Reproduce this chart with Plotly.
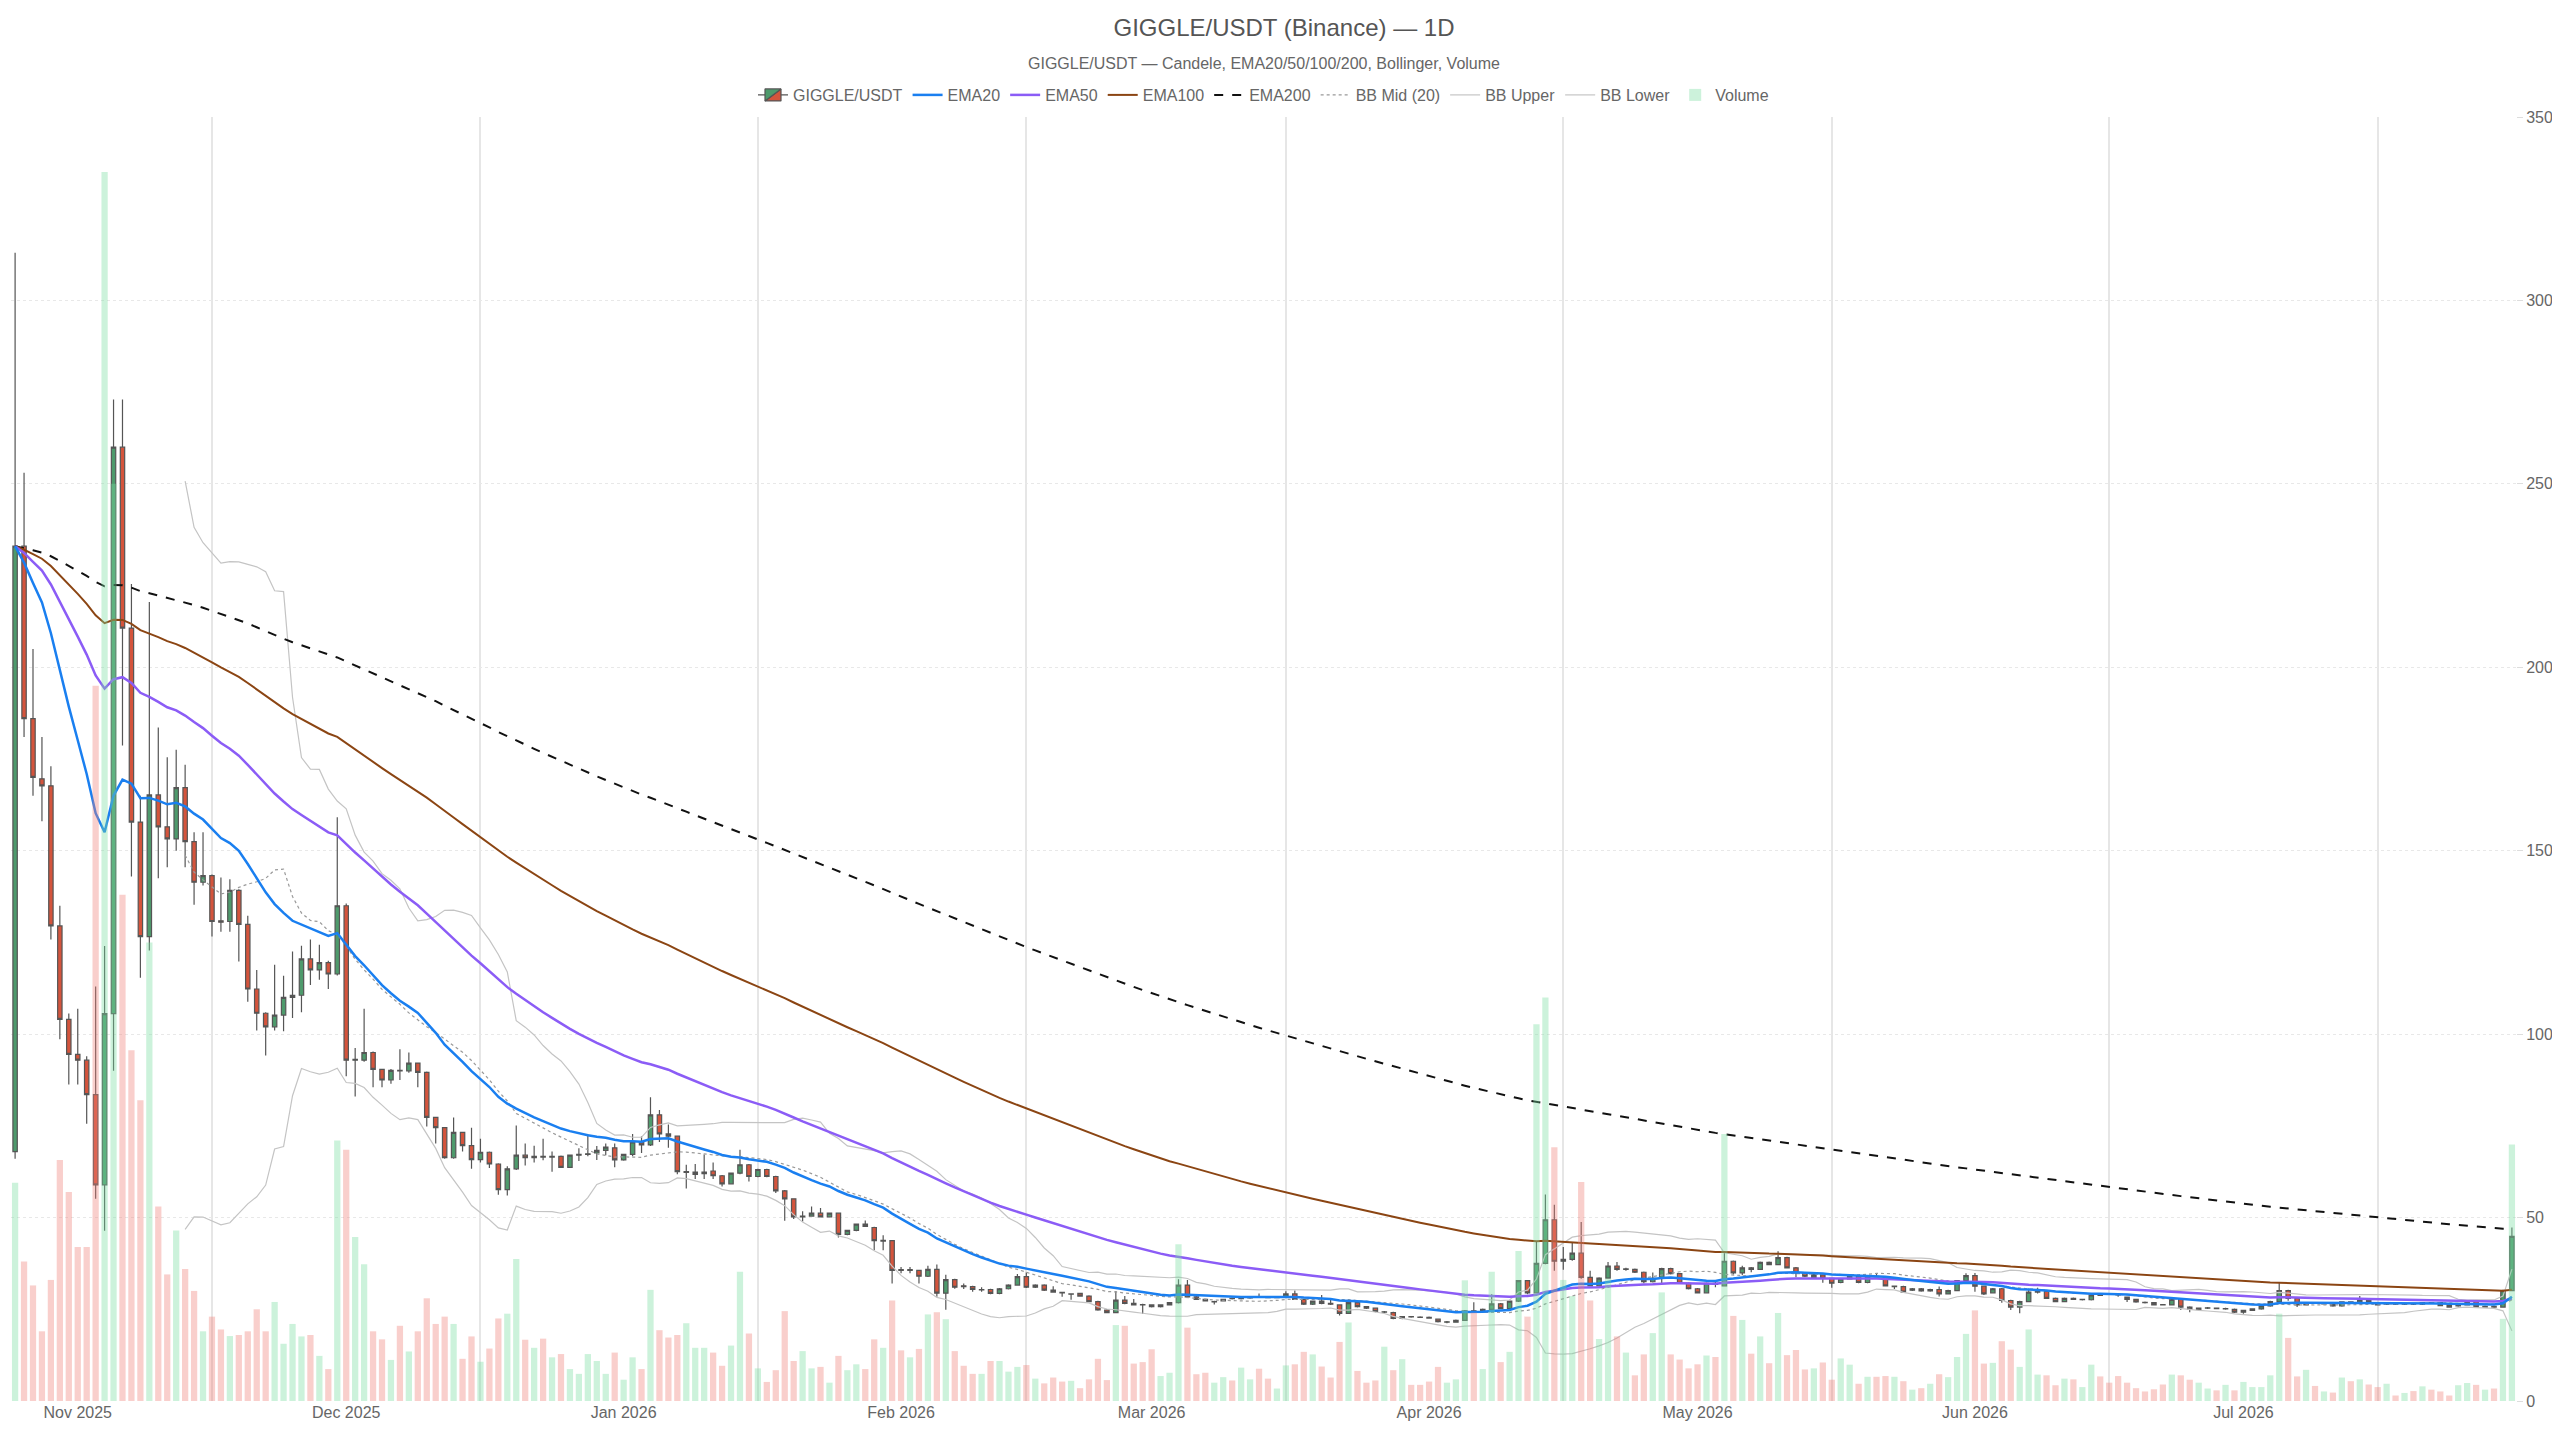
import pandas as pd
import plotly.graph_objects as go

start_date = "2025-10-25"
opens = [68,233,186,169.6,167.7,129.5,104,94.5,92.9,83.5,
 58.9,105.6,260,210.7,157.8,126.6,165.2,156.5,153.2,167.2,
 152.5,141.4,143.2,130.9,130.7,139.2,129.9,112.3,105.7,102,
 105.2,110,110.6,120.5,117.5,119.5,116.4,135,92.9,92.9,
 95,90.4,87.5,90.1,90.0,92.1,89.6,77.3,74.5,66.3,
 73.2,69.6,65.8,67.8,64.6,57.6,63.3,67,66.3,66.7,
 66.5,66.7,63.7,67,67.2,67.6,68.3,69,65.7,67.2,
 70.6,69.8,78,72.8,72.2,62.3,61.8,62.0,62.7,61.4,
 59.2,62.1,64.4,61.2,63.1,61.2,57.3,55.1,50.2,50.4,
 51.2,50.2,51.2,45.4,46.5,48.2,47.3,43.6,43.7,35.8,
 35.6,35.6,34,35.9,29.4,33.1,31.4,31.2,30.3,30.4,
 29.35,30.6,31.6,33.9,31,31.6,30.2,29.6,29.1,29.35,
 28.6,27.1,24.8,24.1,27.5,26.6,26.3,26.2,25.7,26.2,
 26.8,31.6,28.4,27.7,27.0,27.3,28.0,27.9,28.1,28.4,
 28.3,28.2,28.4,29.2,27.7,26.4,27.2,26.6,26.2,23.9,
 26.8,25.7,25.3,24.2,24.1,22.5,23.0,22.9,22.8,22.3,
 21.5,21.5,22,24.6,24.3,25,26.5,25.2,27.2,32.8,
 29.5,37.5,49.4,38.1,38.6,40.3,33.7,31.4,33.5,36.8,
 35.9,35.9,35.1,32.5,33.4,36.1,34.7,32.1,30.6,29.5,
 32.1,31.4,38.1,34.9,36.3,35.9,37.8,37.2,39.1,36.3,
 34.9,33.7,34.4,33.4,32.3,33.3,34,32.3,34,33.7,
 31.2,31.2,30.2,30.6,30.0,30.4,29.2,30.1,32.8,34.2,
 31.3,29.5,30.6,27.4,25.6,27.1,29.7,29.9,28,27.1,
 28,27.6,27.6,28.9,29.2,29,28.3,27.7,26.9,26.8,
 26.3,26.2,27.7,25.6,25,25.3,25.3,25.1,25,24.2,
 24.7,25.1,25.9,27.1,30.1,28,26.2,26.8,26.5,26.5,
 25.9,27,27,27.4,26.8,26.4,26.5,26.4,26.5,26.4,
 26.8,26.8,26.2,25.9,26.2,27.1,25.6,25.8,25.6,30.1]
closes = [233,186,170,167.7,129.5,104,94.5,92.9,83.5,58.9,
 105.6,260,210.7,157.8,126.6,165.2,156.5,153.2,167.2,152.5,
 141.4,143.2,130.7,130.5,139.2,129.9,112.3,105.7,102,105.2,
 110,110.6,120.5,117.5,119.5,116.4,135,92.9,93.1,95,
 90.4,87.5,90.1,90.0,92.1,89.6,77.3,74.5,66.3,73.2,
 69.6,65.8,67.8,64.6,57.6,63.3,67,66.3,66.7,66.5,
 66.7,63.7,67,67.2,67.4,68.3,69.2,65.7,67.2,70.6,
 69.8,78,72.8,72.2,62.5,62.5,62.4,62.4,61.4,59.2,
 62.1,64.4,61.2,63.1,61.2,57.3,55.1,50.2,50.4,51.2,
 50.2,51.2,45.4,46.5,48.2,47.6,43.7,43.8,35.6,35.6,
 35.8,34,35.9,29.4,33.1,31,31.2,30.4,30.4,29.35,
 30.6,31.6,33.9,31,31.6,30.2,29.7,29.5,29.2,28.6,
 27.1,24.8,24.1,27.5,26.6,26.2,26.2,25.7,26.2,26.8,
 31.6,28.4,27.7,27.3,27.1,27.7,27.9,28.1,28.4,28.3,
 28.2,28.4,29.2,27.7,26.4,27.2,26.6,26.4,23.9,26.8,
 25.7,25.3,24.4,24.3,22.5,23.0,22.9,22.8,22.6,21.6,
 21.6,22.0,24.6,24.3,25,26.5,25.2,27.2,32.8,29.5,
 37.5,49.4,38.1,38.6,40.3,33.7,31.4,33.5,36.8,35.9,
 36.0,35.1,32.5,33.4,36.1,34.7,32.1,30.6,29.5,32.1,
 31.8,38.1,34.9,36.3,35.9,37.8,37.2,39.1,36.3,34.9,
 34.0,34.4,33.4,32.1,33.3,34.0,32.3,34,33.9,31.4,
 31.3,29.7,30.6,30.0,30.4,29.2,30.1,32.8,34.2,31.3,
 29.2,30.6,27.4,25.6,27.1,29.7,29.9,28.0,27.1,28,
 27.7,27.7,28.9,28.8,29.1,28.9,27.7,27,26.8,26.2,
 26.2,27.7,25.6,25,25.3,25.4,25.2,25.2,24.2,24.7,
 25.1,25.9,27.1,30.1,28,26.2,26.8,26.7,26.6,25.9,
 27,26.9,27.7,26.8,26.2,26.5,26.4,26.5,26.4,26.8,
 26.7,26.0,25.6,26.0,27.1,25.6,25.8,25.6,30.1,44.9]
highs = [313,253,205,181,173,135,105.6,106.9,94,113,
 124,273,273,222.7,165,217.8,183.6,175.5,177.5,173.4,
 155,155,143.5,142.7,142.2,139.5,132.3,117.5,106,118.9,
 115.9,122.5,124.1,125.8,124.4,120,159.1,135.6,96.2,106.9,
 95.3,90.6,90.5,95.9,95,92.3,89.8,77.5,74.7,77.3,
 73.4,74.5,71.5,68,64.8,64,75.1,70.2,69.6,71.5,
 68,66.9,67.2,68.9,72.8,69.5,70.2,70.2,67.4,72.8,
 72.2,82.8,79.3,75.4,72.4,64.4,64.6,67.2,65,61.6,
 62.3,68.5,64.6,63.3,63.3,61.4,57.5,55.3,51.7,53,
 52.6,51.4,51.4,46.7,48.4,49.2,47.5,45.2,43.9,36.5,
 36.5,35.8,36.9,37.2,34.4,33.3,32,31.4,31,30.6,
 30.8,31.8,34.6,35,31.8,31.8,31.3,29.8,29.4,29.5,
 28.8,27.3,25,30,28.6,27.8,26.5,26.4,26.4,27,
 33.2,33,28.6,27.9,27.3,27.9,28.2,28.4,28.6,29.3,
 28.5,28.6,29.9,30.1,27.9,27.4,28.9,27.7,26.4,27.4,
 27,25.9,25.5,24.5,24.3,23.2,23.2,23.1,23,22.5,
 21.8,22.2,24.8,26.9,25.2,29.1,26.7,27.4,33,33,
 43.4,56.3,53.5,42,43.1,48.8,35.5,33.7,37.9,37.9,
 36.3,36.1,35.3,35.0,36.3,36.3,34.9,32.3,30.8,32.3,
 32.8,40.6,38.3,36.9,36.5,38.0,38.0,40.8,39.3,36.5,
 35.1,34.6,34.6,33.6,33.5,34.2,34.2,34.2,34.9,33.9,
 31.5,31.4,30.8,30.8,30.6,31.2,30.3,33.0,34.8,34.9,
 31.5,30.8,30.8,27.6,27.3,30.6,30.9,30.1,28.2,28.2,
 28.2,27.9,29.3,29.2,29.4,29.3,28.5,27.9,27.1,27.0,
 26.4,28.2,27.9,25.8,25.5,25.6,25.5,25.4,25.2,24.9,
 25.3,26.1,27.3,32.2,30.3,28.2,27.0,27.0,26.8,26.7,
 27.2,27.2,28.6,27.6,27.0,26.7,26.7,26.7,26.7,27.0,
 27,27.0,26.4,26.2,27.3,27.3,26,26.0,30.3,47.3]
lows = [66,181,165,158,125.8,98.6,86.3,86.3,75.6,55.1,
 46.4,90,178.7,143,115.4,122.8,142.5,145.5,150,145.5,
 135.3,140.5,126.6,127.9,127.9,119.8,108.8,101,94.2,101,
 100.8,104.4,106,113.4,114.8,112.3,116,88.5,83,92.5,
 85.5,85.5,86.5,87.5,89.5,85.5,74.8,70.2,66,66,
 68,63.3,65,63.5,56.2,56,63,64.2,65,65.6,
 62.5,63.5,63.5,65.4,66.7,65.7,67.0,63.7,65.5,66.7,
 67.6,69.5,70.6,69.0,61.8,57.9,60.5,60.5,60.5,58.5,
 59,61.8,59.8,61,61,56.7,49.1,49.6,48.9,50.2,
 50,50,44.6,45.2,46.3,47.4,41.1,41.1,32,34.8,
 34.8,32,33.8,28.4,24.9,30.6,30.5,29.8,29.8,29.1,
 29.1,30.4,31.4,30.8,30.8,30,29.5,28.4,27.6,28.4,
 26.9,24.6,23.9,23.9,26.4,26,23.7,25.5,25.5,26,
 26.6,28.2,27.5,27.1,26.3,27.1,27.7,27.7,27.9,28.1,
 28,28,28.2,27.5,26.2,26.2,26.4,26.2,23.3,23.7,
 25.5,25.1,24.2,24,22.3,22.3,22.7,22.6,22.4,21.4,
 21.2,21.3,21.8,24.1,24.1,24.8,25,25,27,29.1,
 29.3,37.3,35.5,35.8,38.2,33.3,31.2,31.2,33.3,35.5,
 35.5,34.9,32.1,32.3,32.0,34.5,31.9,30.4,29.3,29.3,
 31.0,31.2,34.5,34.3,35.1,35.7,37.0,37.0,36.1,33.7,
 33.8,33.5,32.2,30.9,32.1,33.1,32.1,32.1,33.7,31.2,
 30.5,29.5,30.0,29.8,29.8,28.5,29.0,29.9,32.6,29.8,
 28.9,29.3,26.8,24.8,23.9,26.9,29.3,27.8,26.9,26.9,
 27.5,27.4,27.4,28.6,28.9,28.4,27.0,26.8,26.6,26.0,
 26.0,26.0,24.8,24.2,24.8,25.1,25.0,24.9,24.0,23.8,
 24.5,24.9,25.7,26.9,27.3,25.6,26.0,26.5,26.3,25.7,
 25.7,26.7,26.8,26.6,26.0,26.2,26.2,26.2,26.2,26.2,
 26.5,25.8,25.4,25.7,26.0,25.4,25.4,25.2,25.4,30.0]
volumes = [59.5,38,31.5,19,33,65.7,57,42,42,195,
 335,250,138,95.6,82,125,53,34.5,46.5,36,
 30,19,23,19.5,17.7,18,19,25,19,27,
 15.6,21,17.6,18,12.3,8.7,71,68.5,44.7,37.3,
 19,16.8,11.2,20.5,13.5,19,28,21,23,21,
 11.5,17.6,10.7,14.3,22.5,23.8,38.7,16.7,14.5,17,
 11.9,12.8,8.7,7.4,12.8,10.9,7.4,13.2,5.8,11.9,
 8.7,30.3,19.3,17.3,18,21.2,14.5,14.5,13.2,9.6,
 15.1,35.2,18.4,8.9,5.2,8.4,24.5,10.9,13.6,8.9,
 9.3,5,12.3,8.4,10,8.7,16.8,14.5,27.4,13.8,
 11.9,14.2,23.6,24.2,22.3,13.6,9.6,7.4,7.4,10.9,
 10.9,8,9.3,9.8,6.1,4.8,6.4,5.3,5.5,3.5,
 5.9,11.5,5.7,20.7,20.5,10.2,10.6,14.1,6.8,7.7,
 42.7,20,7.3,7.7,5,6.5,5.6,9.1,5.9,8.8,
 6.1,3.4,9.7,10,13.4,12.7,9.4,6.4,16.1,21.4,
 8.2,5,5.6,14.8,8.4,11.4,4.4,4.4,5.3,9.3,
 5,5.9,32.9,24.1,8.7,35.2,10.6,13.4,40.9,23,
 102.7,110,69.2,33,28.6,59.7,27.4,16.9,33.4,17.6,
 13.2,7,12.7,18.5,29.6,12.7,11.3,8.9,10,12.4,
 12,72.8,23.2,22.1,12.9,17.6,10.3,24,12.5,13.9,
 8.6,8.9,10.5,5.8,11.6,9.9,4.7,6.6,6.6,6.8,
 6.6,5.4,3.1,3.5,4.7,7.3,6.5,12,18.3,24.7,
 10.2,10.4,16.3,14,9.3,19.5,7.2,7,4.3,6.1,
 5.9,3.8,9.9,6.7,5,6.8,5,3.5,2.6,3.2,
 4.5,7.2,7,5.8,5,3.4,2.9,4.4,2.9,5.2,
 3.8,3.8,7,23.8,17.2,6.7,8.5,4.1,2.6,2.3,
 6.4,5.4,5.9,4.5,3.8,4.7,1.5,2.2,2.7,4,
 3.1,2.6,1.5,4.3,4.9,4.4,3.1,3.4,22.4,69.9]

month_ticks = ["2025-11-01","2025-12-01","2026-01-01","2026-02-01","2026-03-01",
               "2026-04-01","2026-05-01","2026-06-01","2026-07-01"]
month_labels = ["Nov 2025","Dec 2025","Jan 2026","Feb 2026","Mar 2026",
                "Apr 2026","May 2026","Jun 2026","Jul 2026"]
grid_days = ["2025-11-16","2025-12-16","2026-01-16","2026-02-15","2026-03-16",
             "2026-04-16","2026-05-16","2026-06-16","2026-07-16"]

dates = pd.date_range(start_date, periods=len(closes), freq="D")
cs = pd.Series(closes, index=dates)
ema = {n: cs.ewm(span=n, adjust=False).mean() for n in (20, 50, 100, 200)}
mid = cs.rolling(20).mean()
sd = cs.rolling(20).std()
upper, lower = mid + 2 * sd, mid - 2 * sd

vcol = ["rgba(120,220,160,0.38)" if c >= o else "rgba(240,130,120,0.38)" for o, c in zip(opens, closes)]

fig = go.Figure()
fig.add_trace(go.Bar(x=dates, y=volumes, marker_color=vcol, marker_line_width=0,
                     name="Volume", yaxis="y2", width=86400000*0.7, legendrank=9))
fig.add_trace(go.Scatter(x=dates, y=upper, mode="lines", line=dict(color="#c4c4c4", width=1.2),
                         name="BB Upper", legendrank=7))
fig.add_trace(go.Scatter(x=dates, y=lower, mode="lines", line=dict(color="#c4c4c4", width=1.2),
                         name="BB Lower", legendrank=8))
fig.add_trace(go.Scatter(x=dates, y=mid, mode="lines", line=dict(color="#999999", width=1.2, dash="dot"),
                         name="BB Mid (20)", legendrank=6))
fig.add_trace(go.Scatter(x=dates, y=ema[200], mode="lines", line=dict(color="#111111", width=2, dash="dash"),
                         name="EMA200", legendrank=5))
fig.add_trace(go.Scatter(x=dates, y=ema[100], mode="lines", line=dict(color="#8b4513", width=2),
                         name="EMA100", legendrank=4))
fig.add_trace(go.Scatter(x=dates, y=ema[50], mode="lines", line=dict(color="#8b5cf6", width=2.5),
                         name="EMA50", legendrank=3))
fig.add_trace(go.Scatter(x=dates, y=ema[20], mode="lines", line=dict(color="#1a7ff0", width=2.5),
                         name="EMA20", legendrank=2))
fig.add_trace(go.Candlestick(x=dates, open=opens, high=highs, low=lows, close=closes,
                             name="GIGGLE/USDT", legendrank=1, whiskerwidth=0,
                             increasing=dict(line=dict(color="#555555", width=1.2), fillcolor="#4e9a6c"),
                             decreasing=dict(line=dict(color="#555555", width=1.2), fillcolor="#d4543c")))

H, T, B = 1432, 109, 39
ph = H - T - B
fig.update_layout(
    width=2552, height=H,
    paper_bgcolor="white", plot_bgcolor="white",
    font=dict(family="Arial", color="#666666", size=16),
    title=dict(text="GIGGLE/USDT (Binance) — 1D", x=0.5, xanchor="center",
               y=1 - 20 / H, yanchor="middle", font=dict(size=24, color="#555555")),
    annotations=[dict(text="GIGGLE/USDT — Candele, EMA20/50/100/200, Bollinger, Volume",
                      xref="paper", yref="paper", x=0.5, y=1 + (T - 56) / ph,
                      xanchor="center", yanchor="middle", showarrow=False,
                      font=dict(size=16, color="#666666"))],
    legend=dict(orientation="h", x=0.5, xanchor="center", y=1 + (T - 87) / ph, yanchor="middle",
                font=dict(size=16, color="#666666"), bgcolor="rgba(0,0,0,0)"),
    margin=dict(l=3, r=44, t=T, b=B),
    xaxis=dict(type="date", range=["2025-10-24 13:00", "2026-07-31 11:00"],
               rangeslider=dict(visible=False),
               tickmode="array", tickvals=month_ticks, ticktext=month_labels,
               showgrid=False, ticks="", tickfont=dict(size=16, color="#666666"),
               minor=dict(tickmode="array", tickvals=grid_days, showgrid=True,
                          gridcolor="#e6e6e6", gridwidth=1.5, ticks=""),
               showline=False, zeroline=False),
    yaxis=dict(side="right", range=[0, 350], tickvals=[0,50,100,150,200,250,300,350],
               showgrid=True, gridcolor="#e8e8e8", griddash="dot", zeroline=False,
               tickfont=dict(size=16, color="#666666"), ticks="outside", ticklen=6, tickcolor="#dddddd"),
    yaxis2=dict(overlaying="y", range=[0, 350], visible=False),
)
fig.write_html("out.html")
